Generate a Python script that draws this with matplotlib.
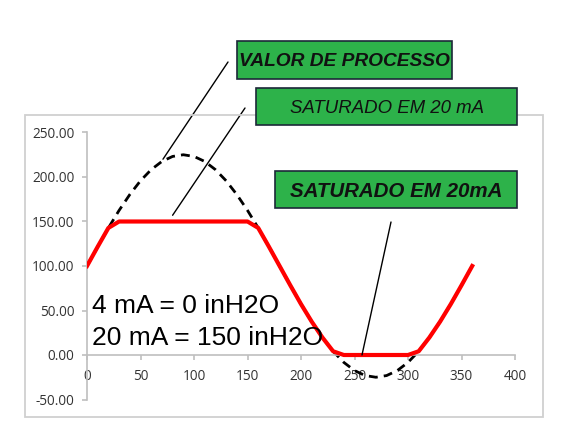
import matplotlib
matplotlib.use("Agg")
import matplotlib.pyplot as plt
from matplotlib.patches import Rectangle

# ---- data ----
angle = [0, 10, 20, 30, 40, 50, 60, 70, 80, 90, 100, 110, 120, 130, 140, 150, 160, 170, 180,
         190, 200, 210, 220, 230, 240, 250, 260, 270, 280, 290, 300, 310, 320, 330, 340, 350, 360]
process_value = [100, 121.7, 142.8, 162.5, 180.3, 195.8, 208.3, 217.5, 223.1, 225, 223.1, 217.5,
                 208.3, 195.8, 180.3, 162.5, 142.8, 121.7, 100, 78.3, 57.2, 37.5, 19.7, 4.2,
                 -8.3, -17.5, -23.1, -25, -23.1, -17.5, -8.3, 4.2, 19.7, 37.5, 57.2, 78.3, 100]
saturated = [100, 121.7, 142.8, 150, 150, 150, 150, 150, 150, 150, 150, 150,
             150, 150, 150, 150, 142.8, 121.7, 100, 78.3, 57.2, 37.5, 19.7, 4.2,
             0, 0, 0, 0, 0, 0, 0, 4.2, 19.7, 37.5, 57.2, 78.3, 100]
y_ticks = [-50, 0, 50, 100, 150, 200, 250]
x_ticks = [0, 50, 100, 150, 200, 250, 300, 350, 400]
box_labels = ["VALOR DE PROCESSO", "SATURADO EM 20 mA", "SATURADO EM 20mA"]
scale_text = ["4 mA = 0 inH2O", "20 mA = 150 inH2O"]

W, H = 587, 447
fig = plt.figure(figsize=(W / 100, H / 100), dpi=100)
fig.patch.set_facecolor("white")

def fx(x):
    return x / W

def fy(y):
    return 1 - y / H

# outer chart frame
fig.patches.append(Rectangle((fx(25), fy(417)), fx(543) - fx(25), fy(115) - fy(417),
                             transform=fig.transFigure, fill=False, edgecolor="#d0d0d0",
                             linewidth=1.3, zorder=0))

ax = fig.add_axes([fx(87), fy(399.5), fx(515) - fx(87), (399.5 - 132.5) / H])
ax.set_xlim(0, 400)
ax.set_ylim(-50, 250)
ax.patch.set_alpha(0)

ax.plot(angle, process_value, color="black", linestyle=(0, (3.2, 2.2)), linewidth=2.0, zorder=2)
ax.plot(angle, saturated, color="#ff0000", linewidth=3.0, zorder=3, solid_joinstyle="round")

for s in ["top", "right"]:
    ax.spines[s].set_visible(False)
ax.spines["bottom"].set_position(("data", 0))
for s in ["left", "bottom"]:
    ax.spines[s].set_color("#bfbfbf")
    ax.spines[s].set_linewidth(1.2)

ax.set_yticks(y_ticks)
ax.set_yticklabels([f"{v:.2f}" for v in y_ticks])
ax.set_xticks(x_ticks)
ax.set_xticklabels([str(v) for v in x_ticks])
ax.tick_params(axis="both", colors="#bfbfbf", labelcolor="#333333", labelsize=9.8,
               length=3.6, width=1.2, direction="out")
ax.tick_params(axis="x", pad=6.5)
ax.tick_params(axis="y", pad=5.5)
for lab in ax.get_xticklabels() + ax.get_yticklabels():
    lab.set_family("Open Sans")

# scale text
ax.text(fx(92), fy(313), scale_text[0], transform=fig.transFigure, fontsize=19,
        family="Liberation Sans", color="black", va="baseline", ha="left", zorder=5)
ax.text(fx(92), fy(345), scale_text[1], transform=fig.transFigure, fontsize=19,
        family="Liberation Sans", color="black", va="baseline", ha="left", zorder=5)

# annotation boxes
boxes = [
    (237, 41, 452, 79, box_labels[0], "bold", 13.8),
    (256, 88, 517, 125, box_labels[1], "normal", 13.4),
    (275, 171, 517, 208, box_labels[2], "bold", 14.8),
]
for x0, y0, x1, y1, label, weight, fs in boxes:
    fig.patches.append(Rectangle((fx(x0), fy(y1)), fx(x1) - fx(x0), fy(y0) - fy(y1),
                                 transform=fig.transFigure, facecolor="#2db24a",
                                 edgecolor="#1c2838", linewidth=1.2, zorder=4))
    fig.text(fx((x0 + x1) / 2), fy((y0 + y1) / 2) , label, ha="center", va="center_baseline",
             fontsize=fs, fontweight=weight, fontstyle="italic", family="Liberation Sans",
             color="#111111", zorder=5)

# leader lines: from box to a point on the curves (data coords)
leaders = [
    ((228, 62), (71, 220)),
    ((245, 108), (80, 157)),
    ((391, 222), (257, 0)),
]
for (bx, by), (dx, dy) in leaders:
    ax.annotate("", xy=(dx, dy), xycoords="data", xytext=(fx(bx), fy(by)),
                textcoords="figure fraction",
                arrowprops=dict(arrowstyle="-", color="black", linewidth=1.0,
                                shrinkA=0, shrinkB=0), zorder=4, annotation_clip=False)

fig.savefig("out.png", dpi=100, facecolor="white")
